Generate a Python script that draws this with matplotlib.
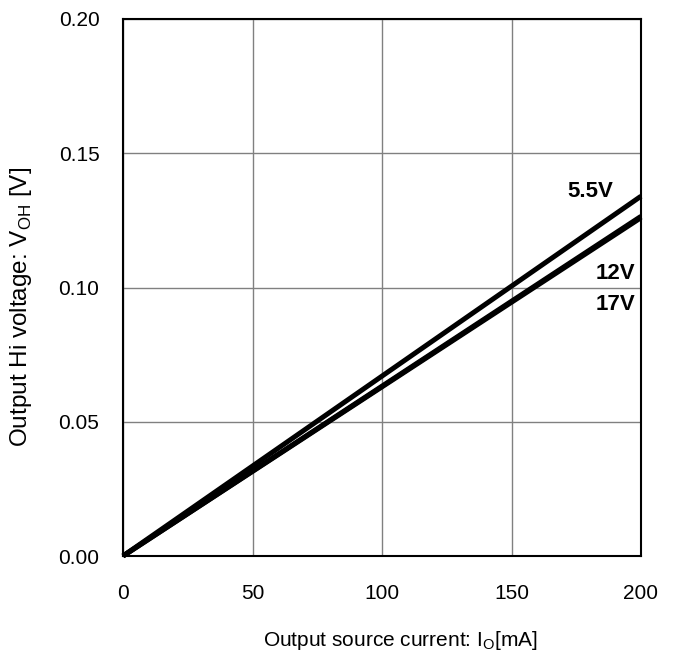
import matplotlib
matplotlib.use("Agg")
import matplotlib.pyplot as plt
import numpy as np

plt.rcParams['font.family'] = ['Liberation Sans', 'DejaVu Sans']

current_mA = [0, 200]
v_55 = [0.0, 0.134]
v_12 = [0.0, 0.1265]
v_17 = [0.0, 0.1260]
series_labels = ["5.5V", "12V", "17V"]
xticks = [0, 50, 100, 150, 200]
yticks = [0.00, 0.05, 0.10, 0.15, 0.20]

FS = 15

fig = plt.figure(figsize=(6.74, 6.55), dpi=100)
ax = fig.add_axes([123/674, 1-556/655, (641-123)/674, (556-19)/655])

for v in (v_55, v_12, v_17):
    ax.plot(current_mA, v, color='black', lw=3.6, solid_capstyle='butt', clip_on=False, zorder=3)

ax.set_xlim(0, 200)
ax.set_ylim(0, 0.20)
ax.set_xticks(xticks)
ax.set_yticks(yticks)
ax.set_xticklabels([str(t) for t in xticks])
ax.set_yticklabels([f"{t:.2f}" for t in yticks])
ax.grid(True, color='#808080', lw=1.0)
ax.set_axisbelow(True)
for s in ax.spines.values():
    s.set_linewidth(1.5)
ax.tick_params(length=0, labelsize=FS)
ax.tick_params(axis='y', pad=17)
ax.tick_params(axis='x', pad=20)

fig.text(400/674, 1-640/655, "Output source current: I$_\\mathregular{O}$[mA]",
         fontsize=FS, ha='center', va='center')
fig.text(21/674, 1-307/655, "Output Hi voltage: V$_\\mathregular{OH}$ [V]",
         fontsize=17.5, ha='center', va='center', rotation=90)

ax.text(189.2, 0.1356, series_labels[0], ha='right', va='center', fontsize=16, fontweight='bold')
ax.text(197.7, 0.1052, series_labels[1], ha='right', va='center', fontsize=16, fontweight='bold')
ax.text(197.7, 0.0937, series_labels[2], ha='right', va='center', fontsize=16, fontweight='bold')

fig.savefig("out.png", dpi=100)
